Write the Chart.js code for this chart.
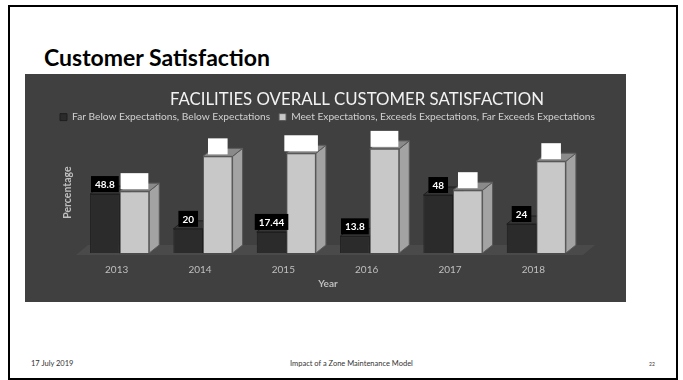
<!DOCTYPE html>
<html>
<head>
<meta charset="utf-8">
<script src="https://cdn.jsdelivr.net/npm/chart.js@4/dist/chart.umd.min.js"></script>
<style>
  html, body { margin: 0; padding: 0; background: #fff; }
  body { width: 683px; height: 380px; position: relative; overflow: hidden; font-family: Lato, "Open Sans", sans-serif; }
  .frame { position: absolute; left: 8px; top: 5px; width: 666px; height: 371px; border: 2px solid #000; }
  .heading { position: absolute; left: 44px; top: 43px; font-size: 23px; font-weight: bold; color: #000; }
  .panel { position: absolute; left: 25px; top: 74px; width: 601px; height: 228px; background: #404040; }
  .foot { position: absolute; top: 359px; font-size: 7.5px; color: #333; }
</style>
</head>
<body>
<div class="frame"></div>
<div class="heading">Customer Satisfaction</div>
<div class="panel"><canvas id="chart" width="601" height="228"></canvas></div>
<div class="foot" style="left:31px">17 July 2019</div>
<div class="foot" style="left:290px">Impact of a Zone Maintenance Model</div>
<div class="foot" style="left:649px;font-size:5px;top:361px">22</div>
<script>
  const years = ['2013', '2014', '2015', '2016', '2017', '2018'];
  const belowValues = [48.8, 20, 17.44, 13.8, 48, 24];
  const meetValues = [51.2, 80, 82.56, 86.2, 52, 76];
  const seriesNames = [
    'Far Below Expectations, Below Expectations',
    'Meet Expectations, Exceeds Expectations, Far Exceeds Expectations'
  ];
  const chartTitle = 'FACILITIES OVERALL CUSTOMER SATISFACTION';

  const DX = 10, DY = 8;
  const sideColors = ['#262626', '#a3a3a3'];
  const topColors = ['#363636', '#8a8a8a'];

  // title sits a bit right of centre in the original, so draw it by hand
  const offsetTitle = {
    id: 'offsetTitle',
    afterDraw(chart) {
      const ctx = chart.ctx;
      ctx.save();
      ctx.font = '16.8px Lato, sans-serif';
      ctx.fillStyle = '#f2f2f2';
      ctx.textAlign = 'center';
      ctx.textBaseline = 'middle';
      ctx.fillText(chartTitle, 332, 26);
      ctx.restore();
    }
  };

  // extruded sides, tops and the floor, drawn under the front faces
  const depthFaces = {
    id: 'depthFaces',
    beforeDatasetsDraw(chart) {
      const ctx = chart.ctx, area = chart.chartArea;
      const y0 = chart.scales.y.getPixelForValue(0) + 1;
      ctx.save();
      ctx.fillStyle = '#4a4a4a';
      ctx.beginPath();
      ctx.moveTo(area.left - 2, y0 + 1);
      ctx.lineTo(area.right + 5, y0 + 1);
      ctx.lineTo(area.right + 17, y0 - 9);
      ctx.lineTo(area.left + 10, y0 - 9);
      ctx.closePath();
      ctx.fill();
      chart.data.datasets.forEach((ds, i) => {
        chart.getDatasetMeta(i).data.forEach(bar => {
          const l = bar.x - bar.width / 2, r = bar.x + bar.width / 2, t = bar.y, b = bar.base;
          ctx.strokeStyle = i ? '#5a5a5a' : '#1e1e1e';
          ctx.lineWidth = 1;
          ctx.fillStyle = sideColors[i];
          ctx.beginPath();
          ctx.moveTo(r, b); ctx.lineTo(r, t); ctx.lineTo(r + DX, t - DY); ctx.lineTo(r + DX, b - DY);
          ctx.closePath(); ctx.fill(); ctx.stroke();
          ctx.fillStyle = topColors[i];
          ctx.beginPath();
          ctx.moveTo(l, t); ctx.lineTo(r, t); ctx.lineTo(r + DX, t - DY); ctx.lineTo(l + DX, t - DY);
          ctx.closePath(); ctx.fill(); ctx.stroke();
        });
      });
      ctx.restore();
    }
  };

  const valueBoxes = {
    id: 'valueBoxes',
    afterDatasetsDraw(chart) {
      const ctx = chart.ctx;
      ctx.save();
      ctx.font = 'bold 10px Lato, sans-serif';
      ctx.textAlign = 'center';
      ctx.textBaseline = 'middle';
      chart.data.datasets.forEach((ds, i) => {
        chart.getDatasetMeta(i).data.forEach((bar, j) => {
          const txt = String(ds.data[j]);
          const w = ctx.measureText(txt).width + 8, h = 16;
          const bottom = bar.y - 2;
          ctx.fillStyle = i ? '#ffffff' : '#000000';
          ctx.fillRect(bar.x - w / 2, bottom - h, w, h);
          ctx.fillStyle = '#ffffff';
          ctx.fillText(txt, bar.x, bottom - h / 2 + 0.5);
        });
      });
      ctx.restore();
    }
  };

  new Chart(document.getElementById('chart'), {
    type: 'bar',
    data: {
      labels: years,
      datasets: [
        { label: seriesNames[0], data: belowValues, backgroundColor: '#2b2b2b', borderColor: '#1e1e1e', borderWidth: 1 },
        { label: seriesNames[1], data: meetValues, backgroundColor: '#c8c8c8', borderColor: '#5a5a5a', borderWidth: 1 }
      ]
    },
    options: {
      responsive: false,
      animation: false,
      devicePixelRatio: 1,
      categoryPercentage: 0.71,
      barPercentage: 1,
      layout: { padding: { left: 26, right: 0, top: 29, bottom: 8 } },
      plugins: {
        title: { display: false },
        legend: {
          align: 'start',
          labels: {
            color: '#d0d0d0',
            boxWidth: 7,
            boxHeight: 7,
            padding: 9,
            font: { family: 'Lato, sans-serif', size: 10.2 }
          }
        },
        tooltip: { enabled: false }
      },
      scales: {
        x: {
          grid: { display: false },
          border: { display: false },
          ticks: { color: '#bfbfbf', font: { family: 'Lato, sans-serif', size: 10 }, padding: 3, labelOffset: -3 },
          title: { display: true, text: 'Year', color: '#bfbfbf', font: { family: 'Lato, sans-serif', size: 10, weight: 'bold' } },
          afterFit(s) { s.height = 41; }
        },
        y: {
          min: 0,
          max: 100,
          grid: { display: false },
          border: { display: false },
          ticks: { display: false },
          title: {
            display: true, text: 'Percentage', color: '#bfbfbf', padding: { top: 10, bottom: 0 },
            font: { family: 'Lato, sans-serif', size: 10.5, weight: 'bold' }
          },
          afterFit(s) { s.width = 27; }
        },
        // empty right-hand axis that only reserves room, so the legend gets the full width
        spacer: {
          position: 'right',
          grid: { display: false },
          border: { display: false },
          ticks: { display: false },
          afterFit(s) { s.width = 48; }
        }
      }
    },
    plugins: [depthFaces, valueBoxes, offsetTitle]
  });
</script>
</body>
</html>
